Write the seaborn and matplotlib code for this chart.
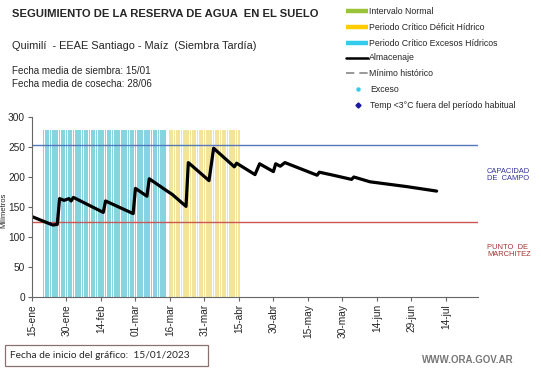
import numpy as np
import pandas as pd
import matplotlib
matplotlib.use("Agg")
import matplotlib.pyplot as plt
from matplotlib.lines import Line2D
from matplotlib.patches import Rectangle
import seaborn as sns

sns.set_theme(style="white")
plt.rcParams['font.family'] = ['Liberation Sans', 'DejaVu Sans']

# ---- data ----
start_date = "2023-01-15"
almac_day = [0, 9, 11, 12, 14, 16, 17, 18, 31, 32, 40, 44, 45, 50, 51, 59, 61, 67, 68,
             77, 79, 88, 89, 97, 99, 105, 106, 108, 110, 124, 125, 131, 139, 140, 147, 163, 176]
almac_val = [134, 120, 121, 164, 161, 164, 160, 166, 141, 160, 146, 139, 181, 168, 197, 176, 171, 151, 224,
             194, 248, 217, 223, 204, 222, 209, 222, 218, 224, 203, 208, 203, 196, 200, 192, 184, 176.5]
capacidad_campo = 253
punto_marchitez = 125
exceso_start, exceso_end = 5, 58       # Periodo critico excesos hidricos (days since start)
deficit_start, deficit_end = 60, 90    # Periodo critico deficit hidrico
period_height = 278
tick_days = list(range(0, 181, 15))
tick_labels = ["15-ene", "30-ene", "14-feb", "01-mar", "16-mar", "31-mar", "15-abr",
               "30-abr", "15-may", "30-may", "14-jun", "29-jun", "14-jul"]

W, H = 541, 368
fig = plt.figure(figsize=(W / 100, H / 100), dpi=100)
ax = fig.add_axes([32 / W, 1 - 297 / H, (478 - 32) / W, (297 - 117) / H])

cyan = "#86d4df"
yellow = "#f2e59a"
exc_days = np.arange(exceso_start, exceso_end + 1)
def_days = np.arange(deficit_start, deficit_end + 1)
ax.bar(exc_days, [period_height] * len(exc_days), width=0.75, color=cyan, linewidth=0)
ax.bar(def_days, [period_height] * len(def_days), width=0.75, color=yellow, linewidth=0)

ax.axhline(capacidad_campo, color="#5577bb", lw=1.0)
ax.axhline(punto_marchitez, color="#cc5555", lw=1.0)

df = pd.DataFrame({"day": almac_day, "val": almac_val})
sns.lineplot(data=df, x="day", y="val", ax=ax, color="black", lw=2.3)

ax.set_xlim(0, 194)
ax.set_ylim(0, 300)
ax.set_yticks(range(0, 301, 50))
ax.set_xticks(tick_days)
ax.set_xticklabels(tick_labels, rotation=90, fontsize=7.3)
ax.tick_params(axis="y", labelsize=7.3, length=3, width=0.8, color="#666666", pad=2, direction="out", left=True)
ax.tick_params(axis="x", length=3, width=0.8, color="#666666", pad=2, direction="out", bottom=True)
ax.set_xlabel("")
ax.set_ylabel("Milímetros", fontsize=5.5)
ax.yaxis.set_label_coords(-0.056, 0.48)
for s in ["top", "right"]:
    ax.spines[s].set_visible(False)
for s in ["left", "bottom"]:
    ax.spines[s].set_color("#666666")
    ax.spines[s].set_linewidth(0.8)

# ---- header texts ----
def fx(x): return x / W
def fy(y): return 1 - y / H

fig.text(fx(12), fy(14), "SEGUIMIENTO DE LA RESERVA DE AGUA  EN EL SUELO", fontsize=8.1,
         fontweight="bold", va="center", ha="left")
fig.text(fx(12), fy(46), "Quimilí  - EEAE Santiago - Maíz  (Siembra Tardía)", fontsize=7.9,
         va="center", ha="left")
fig.text(fx(12), fy(71), "Fecha media de siembra: 15/01", fontsize=7.1, va="center", ha="left")
fig.text(fx(12), fy(84), "Fecha media de cosecha: 28/06", fontsize=7.1, va="center", ha="left")

# ---- legend ----
leg_y = [11, 27, 43, 58, 73, 89, 105]
leg_lab = ["Intervalo Normal", "Periodo Crítico Déficit Hídrico", "Periodo Crítico Excesos Hídricos",
           "Almacenaje", "Mínimo histórico", "Exceso", "Temp <3°C fuera del período habitual"]
fs_leg = 6.3
for y, c in zip(leg_y[:3], ["#99c43a", "#ffcc00", "#33ccee"]):
    fig.add_artist(Line2D([fx(346), fx(368)], [fy(y), fy(y)], color=c, lw=3.2, solid_capstyle="butt"))
fig.add_artist(Line2D([fx(346), fx(368)], [fy(58), fy(58)], color="black", lw=1.8))
fig.add_artist(Line2D([fx(346), fx(368)], [fy(73), fy(73)], color="#888888", lw=1.2, dashes=(5, 3)))
fig.add_artist(Line2D([fx(358)], [fy(89)], marker="o", color="#33ccee", markersize=2.2, lw=0))
fig.add_artist(Line2D([fx(358)], [fy(105)], marker="D", color="#1a1aa0", markersize=2.6, lw=0))
for y, lab in zip(leg_y, leg_lab):
    tx = 369 if y <= 73 else 370
    fig.text(fx(tx), fy(y), lab, fontsize=fs_leg, va="center", ha="left")

# ---- right annotations ----
fig.text(fx(487), fy(175), "CAPACIDAD\nDE  CAMPO", fontsize=5.4, color="#333399",
         va="center", ha="left", linespacing=1.1)
fig.text(fx(487), fy(251), "PUNTO  DE\nMARCHITEZ", fontsize=5.4, color="#a33333",
         va="center", ha="left", linespacing=1.1)

# ---- bottom ----
fig.add_artist(Rectangle((fx(5), fy(366)), fx(208) - fx(5), fy(345) - fy(366),
                         fill=False, edgecolor="#8a7070", lw=0.9))
fig.text(fx(10), fy(355.5), "Fecha de inicio del gráfico:  15/01/2023", fontsize=7.3,
         family=["Lato", "DejaVu Sans"], va="center", ha="left")
fig.text(fx(514), fy(360), "WWW.ORA.GOV.AR", fontsize=7.0, color="#777777",
         fontweight="bold", va="center", ha="right")

fig.savefig("out.png", dpi=100)
